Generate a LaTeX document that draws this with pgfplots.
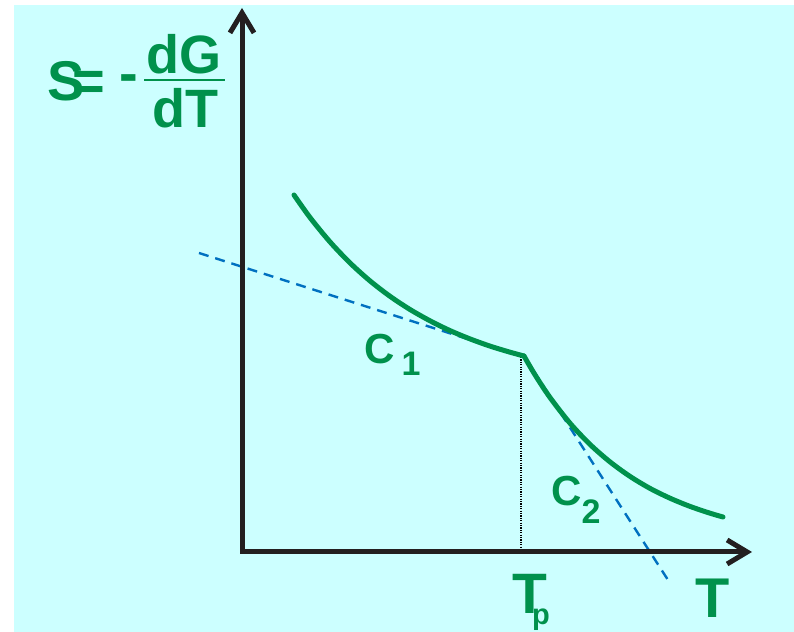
\documentclass[border=0pt]{standalone}
\usepackage{pgfplots}
\pgfplotsset{compat=1.18}
\usepackage{fontspec}
\setmainfont{Liberation Sans}
\usetikzlibrary{arrows.meta}

\definecolor{bgcyan}{RGB}{204,255,255}
\definecolor{curvegreen}{RGB}{0,145,76}
\definecolor{tanblue}{RGB}{0,112,192}
\definecolor{axisblack}{RGB}{35,31,32}

\newcommand{\lbl}[1]{\bfseries\fontsize{#1}{#1}\selectfont}

\begin{document}
\begin{tikzpicture}
\begin{axis}[
    x=0.5pt, y=0.5pt,
    xmin=0, xmax=794,
    ymin=0, ymax=632,
    hide axis,
    clip=false,
]

% background
\addplot[draw=none, fill=white] coordinates {(0,0) (794,0) (794,632) (0,632)} -- cycle;
\addplot[draw=none, fill=bgcyan] coordinates {(14,0) (794,0) (794,627) (14,627)} -- cycle;

% tangents
\addplot[tanblue, line width=1.2pt, dash pattern=on 5pt off 3.5pt] coordinates {(199,379) (524,275)};
\addplot[tanblue, line width=1.2pt, dash pattern=on 5pt off 3.5pt] coordinates {(524,276) (668,52)};

% dotted drop line
\addplot[black, line width=0.6pt, dash pattern=on 0.6pt off 0.6pt] coordinates {(521,275) (521,80)};

% axes
\addplot[axisblack, line width=2.5pt, line join=miter,
    {Straight Barb[length=10pt,width=12pt]}-{Straight Barb[length=10pt,width=12pt]}]
    coordinates {(242,624) (242,80) (752,80)};

% entropy curve, two branches
\addplot[curvegreen, line width=2.5pt, smooth, line cap=round] coordinates {
    (294,437) (310,414.5) (330,390.1) (350,369.1) (370,351.1) (390,335.7)
    (410,322.5) (430,311.2) (450,301.4) (470,293.1) (490,285.9) (510,279.8) (524,276)
};
\addplot[curvegreen, line width=2.5pt, smooth, line cap=round] coordinates {
    (524,276) (535,257.2) (550,234.5) (570,208.8) (590,187.6) (610,170.1)
    (630,155.6) (650,143.6) (670,133.8) (690,125.6) (710,118.8) (723,115)
};

% labels
\node[text=curvegreen, inner sep=0pt] at (axis cs:66,551) {\lbl{28}S};
\node[text=curvegreen, inner sep=0pt] at (axis cs:89,546) {\lbl{28}=};
\node[text=curvegreen, inner sep=0pt] at (axis cs:129,548) {\lbl{28}-};
\node[text=curvegreen, inner sep=0pt] at (axis cs:184,578) {\lbl{27}dG};
\node[text=curvegreen, inner sep=0pt] at (axis cs:185,524) {\lbl{27}dT};
\addplot[curvegreen, line width=1pt] coordinates {(144,552) (225,552)};

\node[text=curvegreen, inner sep=0pt] at (axis cs:380,283) {\lbl{21}C};
\node[text=curvegreen, inner sep=0pt] at (axis cs:411,268.5) {\lbl{17}1};
\node[text=curvegreen, inner sep=0pt] at (axis cs:566.5,141) {\lbl{21}C};
\node[text=curvegreen, inner sep=0pt] at (axis cs:591,120) {\lbl{17}2};

\node[text=curvegreen, inner sep=0pt] at (axis cs:529.5,38.5) {\lbl{28.5}T};
\node[text=curvegreen, inner sep=0pt, anchor=base] at (axis cs:541,7) {\lbl{14.5}p};
\node[text=curvegreen, inner sep=0pt] at (axis cs:712.5,34) {\lbl{28}T};

\end{axis}
\end{tikzpicture}
\end{document}
